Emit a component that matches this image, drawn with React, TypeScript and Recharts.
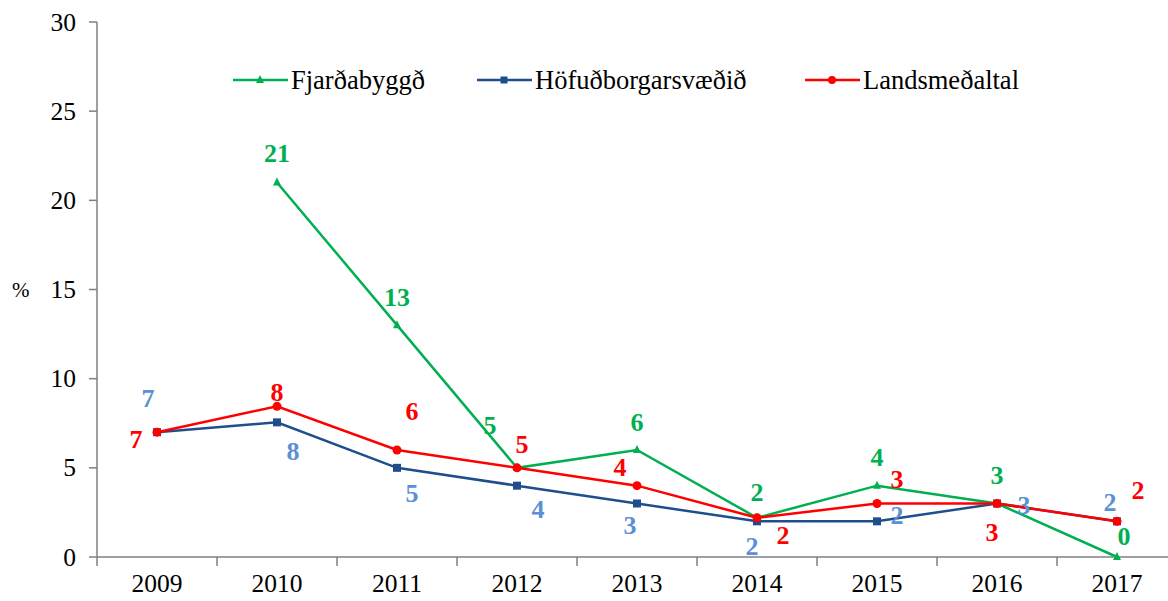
import React from 'react';
import { LineChart, Line, XAxis, YAxis } from 'recharts';

const years = ['2009', '2010', '2011', '2012', '2013', '2014', '2015', '2016', '2017'];
const fjardabyggd = [null, 21, 13, 5, 6, 2.2, 4, 3, 0];
const hofudborg = [7, 7.55, 5, 4, 3, 2, 2, 3, 2];
const landsmedaltal = [7, 8.45, 6, 5, 4, 2.2, 3, 3, 2];

const fjLabels = ['', '21', '13', '5', '6', '2', '4', '3', '0'];
const hoLabels = ['7', '8', '5', '4', '3', '2', '2', '3', '2'];
const laLabels = ['7', '8', '6', '5', '4', '2', '3', '3', '2'];

const yTicks = [0, 5, 10, 15, 20, 25, 30];
const xTicks = [-0.5, 0, 0.5, 1, 1.5, 2, 2.5, 3, 3.5, 4, 4.5, 5, 5.5, 6, 6.5, 7, 7.5, 8];

const data = years.map((y, i) => ({
  i,
  year: y,
  fj: fjardabyggd[i],
  ho: hofudborg[i],
  la: landsmedaltal[i],
}));

const GREEN = '#00B050';
const NAVY = '#1F4E8C';
const RED = '#FF0000';
const LIGHTBLUE = '#5B8FD6';
const AXIS = '#808080';
const FONT = '"Liberation Serif", "Times New Roman", serif';

// label offsets (dx, dy) relative to the point, per year
const fjOff = [[0, 0], [0, -29], [0, -28], [-27, -42], [0, -28], [0, -25], [0, -28], [0, -28], [7, -21]];
const hoOff = [[-9, -34], [16, 29], [15, 26], [21, 24], [-7, 22], [-5, 25], [20, -6], [27, 2], [-7, -19]];
const laOff = [[-21, 7], [0, -14], [15, -39], [5, -23], [-17, -18], [26, 18], [20, -24], [-5, 29], [21, -31]];

const makeLabel = (texts: string[], offs: number[][], color: string) => (props: any) => {
  const { x, y, index } = props;
  if (x == null || y == null || !texts[index]) return null;
  const [dx, dy] = offs[index];
  return (
    <text x={x + dx} y={y + dy} textAnchor="middle" dominantBaseline="central"
      fill={color} fontFamily={FONT} fontSize={26} fontWeight="bold">
      {texts[index]}
    </text>
  );
};

const Triangle = (props: any) => {
  const { cx, cy } = props;
  if (cx == null || cy == null) return null;
  return <path d={`M${cx},${cy - 5} L${cx + 4},${cy + 3} L${cx - 4},${cy + 3} Z`} fill={GREEN} />;
};
const Square = (props: any) => {
  const { cx, cy } = props;
  if (cx == null || cy == null) return null;
  return <rect x={cx - 4} y={cy - 4} width={8} height={8} fill={NAVY} />;
};
const Circle = (props: any) => {
  const { cx, cy } = props;
  if (cx == null || cy == null) return null;
  return <circle cx={cx} cy={cy} r={4.5} fill={RED} />;
};

const XTick = (props: any) => {
  const { x, y, payload } = props;
  const v = payload.value;
  if (!Number.isInteger(v)) {
    return <line x1={x} x2={x} y1={y - 9} y2={y} stroke={AXIS} strokeWidth={1.5} />;
  }
  return (
    <text x={x} y={y + 17} textAnchor="middle" dominantBaseline="central"
      fill="#000" fontFamily={FONT} fontSize={25.5}>
      {years[v]}
    </text>
  );
};

const YTick = (props: any) => {
  const { x, y, payload } = props;
  return (
    <text x={x} y={y} textAnchor="end" dominantBaseline="central"
      fill="#000" fontFamily={FONT} fontSize={25.5}>
      {payload.value}
    </text>
  );
};

const legendItems = [
  { name: 'Fjarðabyggð', color: GREEN, marker: 'tri' },
  { name: 'Höfuðborgarsvæðið', color: NAVY, marker: 'sq' },
  { name: 'Landsmeðaltal', color: RED, marker: 'ci' },
];
const legendX = [233, 477, 805];

const ChartLegend = () => (
  <svg width={1168} height={40} style={{ position: 'absolute', left: 0, top: 60, overflow: 'visible' }}>
    {legendItems.map((it, k) => {
      const x0 = legendX[k];
      return (
        <g key={it.name}>
          <line x1={x0} x2={x0 + 55} y1={20} y2={20} stroke={it.color} strokeWidth={2.5} />
          {it.marker === 'tri' && <path d={`M${x0 + 27},${15} L${x0 + 31},${23} L${x0 + 23},${23} Z`} fill={it.color} />}
          {it.marker === 'sq' && <rect x={x0 + 23.5} y={16.5} width={7} height={7} fill={it.color} />}
          {it.marker === 'ci' && <circle cx={x0 + 27} cy={20} r={4} fill={it.color} />}
          <text x={x0 + 58} y={20} dominantBaseline="central" fontFamily={FONT} fontSize={26.5} fill="#000">
            {it.name}
          </text>
        </g>
      );
    })}
  </svg>
);

export default function App() {
  return (
    <div style={{ position: 'absolute', left: 0, top: 0, width: 1168, height: 601, overflow: 'hidden', background: '#fff' }}>
      <LineChart width={1200} height={601} data={data}
        margin={{ top: 22, right: 23, left: 37, bottom: 4 }}>
        <XAxis dataKey="i" type="number" domain={[-0.5, 8.5]} ticks={xTicks} interval={0}
          axisLine={{ stroke: AXIS, strokeWidth: 1.5 }} tickLine={false} tickSize={9}
          tickMargin={0} height={40} tick={<XTick />} allowDataOverflow />
        <YAxis domain={[0, 30]} ticks={yTicks} interval={0} width={60}
          axisLine={{ stroke: AXIS, strokeWidth: 1.5 }} tickLine={{ stroke: AXIS, strokeWidth: 1.5 }}
          tickSize={8} tickMargin={13} tick={<YTick />}
          label={{ value: '%', position: 'insideLeft', offset: -25, fill: '#000', fontFamily: FONT, fontSize: 21 }} />
        <Line dataKey="fj" name="Fjarðabyggð" stroke={GREEN} strokeWidth={2.5} dot={<Triangle />}
          activeDot={false} isAnimationActive={false} connectNulls={false}
          label={makeLabel(fjLabels, fjOff, GREEN)} />
        <Line dataKey="ho" name="Höfuðborgarsvæðið" stroke={NAVY} strokeWidth={2.5} dot={<Square />}
          activeDot={false} isAnimationActive={false}
          label={makeLabel(hoLabels, hoOff, LIGHTBLUE)} />
        <Line dataKey="la" name="Landsmeðaltal" stroke={RED} strokeWidth={2.5} dot={<Circle />}
          activeDot={false} isAnimationActive={false}
          label={makeLabel(laLabels, laOff, RED)} />
      </LineChart>
      <ChartLegend />
    </div>
  );
}
